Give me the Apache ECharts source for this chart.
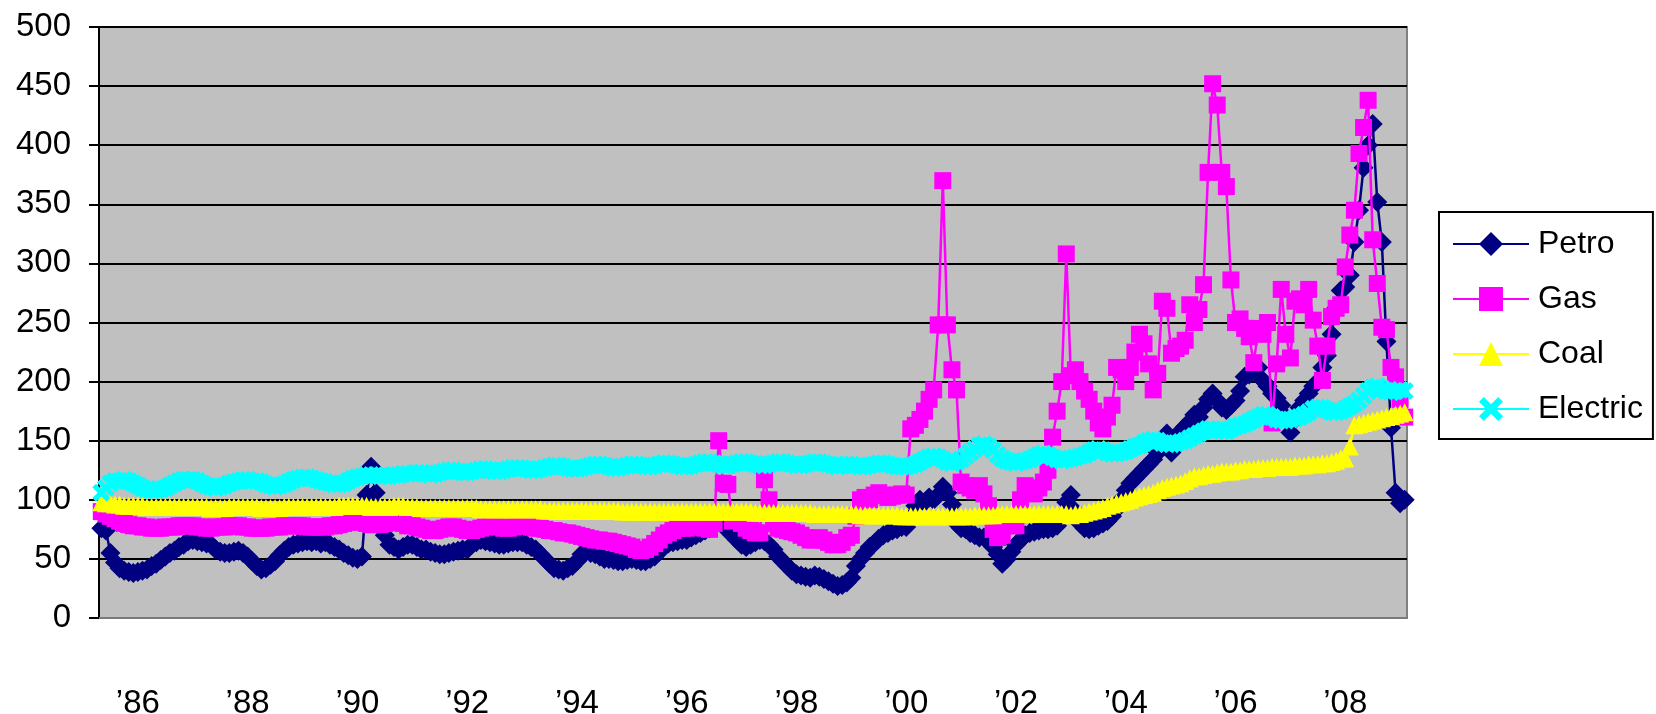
<!DOCTYPE html>
<html>
<head>
<meta charset="utf-8">
<script src="https://cdn.jsdelivr.net/npm/echarts@6/dist/echarts.min.js"></script>
<style>
html,body{margin:0;padding:0;background:#fff;}
#chart{width:1656px;height:714px;}
</style>
</head>
<body>
<div id="chart"></div>
<script>
// Monthly observations, May 1985 .. Feb 2009
const startYear = 1985, startMonth = 5;
const seriesNames = ["Petro", "Gas", "Coal", "Electric"];
const tickLabels = ["’86","’88","’90","’92","’94","’96","’98","’00","’02","’04","’06","’08"];
const tickYears = [1986,1988,1990,1992,1994,1996,1998,2000,2002,2004,2006,2008];

const petro = [
  76, 74, 55, 47, 42, 40, 39, 38,
  39, 40, 41, 44, 46, 49, 52, 55, 57, 60, 62, 65,
  66, 65, 64, 63, 62, 58, 56, 55, 55, 56, 57, 55,
  52, 48, 44, 41, 42, 45, 48, 53, 57, 60, 62, 63,
  64, 65, 64, 65, 63, 64, 62, 60, 58, 55, 53, 51,
  50, 52, 104, 128, 106, 86, 70, 62, 60, 58, 60, 62,
  62, 60, 58, 58, 56, 55, 54, 54, 55, 56, 57, 58,
  58, 62, 64, 66, 65, 64, 63, 62, 62, 63, 64, 64,
  64, 62, 60, 58, 54, 50, 46, 42, 41, 40, 42, 44,
  48, 54, 56, 55, 54, 52, 50, 50, 49, 48, 48, 49,
  50, 49, 48, 48, 50, 52, 56, 60, 63, 64, 65, 66,
  66, 68, 70, 72, 74, 76, 80, 82, 78, 74, 70, 66,
  62, 60, 62, 64, 66, 65, 62, 58, 52, 48, 44, 40,
  37, 36, 35, 34, 36, 35, 33, 31, 29, 27, 28, 30,
  34, 44, 50, 55, 60, 63, 67, 70, 72, 74, 75, 77,
  77, 85, 95, 100, 98, 102, 100, 104, 111, 106, 96, 80,
  76, 75, 72, 70, 68, 68, 66, 60, 54, 46, 50, 56,
  62, 66, 70, 72, 73, 74, 75, 75, 76, 78, 85, 98,
  104, 90, 80, 76, 75, 76, 78, 80, 82, 86, 92, 100,
  108, 114, 118, 122, 126, 130, 134, 140, 150, 156, 140, 150,
  158, 162, 166, 172, 170, 178, 185, 190, 184, 178, 176, 180,
  184, 192, 204, 206, 210, 212, 201, 196, 190, 186, 180, 170,
  157, 168, 178, 184, 190, 196, 200, 212, 222, 240, 262, 277,
  280, 290, 318, 345, 381, 400, 418, 352, 318, 234, 161, 106,
  97, 100
];

const gas = [
  90, 88, 86, 84, 82, 80, 79, 78,
  78, 77, 77, 76, 76, 76, 77, 77, 77, 78, 78, 78,
  78, 77, 77, 76, 76, 77, 77, 77, 78, 78, 78, 77,
  77, 76, 76, 76, 76, 77, 77, 77, 78, 78, 78, 78,
  78, 77, 77, 77, 77, 77, 78, 78, 79, 80, 81, 82,
  82, 81, 80, 79, 79, 79, 80, 81, 82, 81, 80, 78,
  78, 77, 76, 75, 74, 74, 75, 76, 77, 77, 76, 75,
  74, 74, 75, 76, 77, 78, 78, 77, 76, 76, 77, 78,
  78, 78, 77, 76, 76, 75, 74, 74, 73, 72, 72, 71,
  70, 69, 68, 67, 66, 66, 65, 65, 64, 63, 62, 61,
  60, 58, 57, 58, 60, 63, 66, 70, 72, 74, 76, 76,
  76, 77, 78, 77, 76, 75, 80, 150, 114, 113, 82, 84,
  80, 76, 74, 72, 72, 117, 100, 80, 76, 75, 74, 73,
  72, 70, 68, 66, 66, 68, 66, 64, 62, 62, 64, 68,
  70, 86, 100, 102, 100, 104, 106, 104, 102, 103, 104, 105,
  104, 160, 163, 168, 175, 185, 193, 248, 370, 248, 210, 193,
  115, 112, 110, 108, 112, 105, 95, 75, 68, 70, 80, 78,
  78, 100, 112, 110, 105, 110, 115, 125, 153, 175, 200, 308,
  205, 210, 200, 192, 185, 175, 165, 160, 170, 180, 212, 210,
  200, 212, 225, 240, 232, 215, 193, 207, 268, 262, 224, 228,
  230, 235, 265, 250, 261, 282, 377, 452, 434, 377, 365, 286,
  250, 253, 245, 238, 216, 245, 240, 250, 165, 215, 278, 240,
  220, 268, 270, 265, 278, 252, 230, 201, 230, 255, 262, 265,
  297, 324, 345, 393, 415, 438, 320, 283, 246, 244, 212, 204,
  185, 170
];

const coal = [
  98, 97, 97, 96, 96, 95, 95, 95,
  95, 95, 94, 94, 94, 94, 94, 94, 94, 94, 94, 94,
  94, 94, 94, 94, 93, 93, 93, 93, 94, 94, 94, 94,
  94, 94, 94, 93, 93, 93, 93, 93, 94, 94, 94, 94,
  94, 94, 94, 94, 94, 94, 94, 94, 95, 95, 95, 95,
  95, 95, 95, 94, 94, 94, 94, 94, 95, 95, 95, 94,
  94, 94, 93, 93, 93, 93, 93, 93, 93, 93, 93, 93,
  93, 93, 93, 92, 92, 92, 92, 92, 92, 92, 92, 92,
  92, 92, 92, 92, 92, 91, 91, 91, 91, 91, 91, 91,
  91, 91, 91, 91, 91, 91, 91, 91, 91, 91, 90, 90,
  90, 90, 90, 90, 90, 90, 90, 90, 90, 90, 90, 90,
  90, 90, 90, 90, 90, 90, 90, 90, 90, 90, 90, 90,
  90, 90, 90, 89, 89, 89, 89, 89, 89, 89, 89, 89,
  89, 89, 89, 89, 88, 88, 88, 88, 88, 88, 88, 88,
  88, 88, 87, 87, 87, 87, 87, 87, 87, 87, 87, 86,
  86, 86, 86, 86, 86, 86, 86, 86, 86, 86, 86, 86,
  86, 86, 86, 87, 87, 87, 87, 87, 88, 88, 88, 88,
  88, 88, 88, 88, 88, 88, 88, 88, 88, 88, 88, 88,
  87, 88, 88, 89, 90, 91, 92, 93, 95, 96, 97, 98,
  99, 100, 102, 103, 104, 105, 106, 108, 110, 111, 112, 113,
  114, 116, 118, 120, 120, 121, 122, 122, 123, 124, 124, 124,
  125, 125, 126, 126, 126, 127, 127, 127, 128, 128, 128, 128,
  128, 129, 129, 129, 130, 130, 130, 131, 131, 132, 133, 135,
  135, 145, 163, 164, 165, 166, 167, 168, 169, 170, 171, 172,
  173, 174
];

const electric = [
  106, 110, 114, 116, 116, 117, 116, 114,
  112, 110, 109, 108, 108, 109, 110, 112, 114, 116, 117, 117,
  117, 116, 114, 112, 111, 110, 111, 112, 114, 115, 116, 117,
  117, 116, 116, 115, 113, 112, 111, 112, 113, 115, 117, 118,
  119, 119, 118, 117, 116, 115, 114, 113, 113, 114, 116, 118,
  119, 120, 121, 121, 121, 120, 120, 120, 121, 121, 122, 122,
  122, 123, 123, 122, 121, 122, 123, 124, 125, 125, 124, 123,
  123, 124, 125, 126, 126, 125, 124, 124, 125, 126, 127, 127,
  127, 126, 125, 125, 126, 127, 128, 129, 129, 128, 127, 126,
  126, 127, 128, 129, 130, 130, 129, 128, 127, 127, 128, 129,
  130, 130, 129, 128, 128, 129, 130, 131, 131, 130, 129, 128,
  128, 129, 130, 131, 132, 132, 131, 130, 129, 129, 130, 131,
  132, 132, 131, 130, 129, 129, 130, 131, 132, 132, 131, 130,
  129, 129, 130, 131, 132, 132, 131, 130, 129, 128, 129, 130,
  130, 129, 128, 128, 129, 130, 131, 131, 130, 129, 128, 128,
  128, 129, 130, 132, 134, 136, 137, 136, 134, 132, 131, 132,
  134, 137, 140, 143, 146, 147, 145, 142, 138, 135, 133, 132,
  131, 132, 133, 134, 136, 138, 139, 138, 136, 134, 133, 134,
  135, 136, 137, 138, 140, 142, 143, 142, 140, 139, 139, 140,
  141, 143, 145, 146, 148, 150, 151, 150, 148, 147, 147, 148,
  149, 150, 152, 154, 156, 158, 160, 160, 159, 158, 158, 160,
  162, 163, 164, 166, 168, 170, 172, 172, 170, 168, 167, 167,
  168, 169, 170, 172, 174, 177, 178, 178, 176, 174, 174, 175,
  177, 179, 181, 184, 188, 192, 195, 196, 194, 192, 191, 192,
  193, 192
];

// month categories
const months = [];
for (let i = 0; i < petro.length; i++) {
  const m0 = startMonth - 1 + i;
  const y = startYear + Math.floor(m0 / 12);
  const m = (m0 % 12) + 1;
  months.push(y + "-" + (m < 10 ? "0" + m : m));
}
const labelFor = {};
tickYears.forEach((y, k) => { labelFor[y + "-01"] = tickLabels[k]; });

const FONT = '"Liberation Sans", Arial, sans-serif';
const xPath = 'path://M2,0 L5,3 L8,0 L10,2 L7,5 L10,8 L8,10 L5,7 L2,10 L0,8 L3,5 L0,2 Z';

const styles = [
  { color: '#000080', symbol: 'diamond', size: [20, 20] },
  { color: '#FF00FF', symbol: 'rect', size: 17 },
  { color: '#FFFF00', symbol: 'triangle', size: 18 },
  { color: '#00FFFF', symbol: xPath, size: 18 }
];
const values = [petro, gas, coal, electric];

const chart = echarts.init(document.getElementById('chart'), null, { renderer: 'canvas' });
chart.setOption({
  animation: false,
  backgroundColor: '#ffffff',
  grid: {
    left: 99, right: 249, top: 27, bottom: 96,
    containLabel: false,
    outerBoundsMode: 'none',
    show: true, backgroundColor: '#C0C0C0', borderColor: '#808080', borderWidth: 2
  },
  legend: {
    orient: 'vertical',
    left: 1439, top: 212,
    padding: [16, 10, 14, 13],
    itemGap: 23,
    itemWidth: 76, itemHeight: 30,
    backgroundColor: '#ffffff',
    borderColor: '#000000', borderWidth: 2,
    textStyle: { fontFamily: FONT, fontSize: 32, color: '#000', padding: [0, 0, 0, 4] },
    data: seriesNames
  },
  xAxis: {
    type: 'category',
    data: months,
    boundaryGap: true,
    axisLine: { show: true, lineStyle: { color: '#7a7a7a', width: 2 } },
    axisTick: { show: false },
    splitLine: { show: false },
    axisLabel: {
      interval: (idx, val) => labelFor[val] !== undefined,
      formatter: (val) => labelFor[val] || '',
      margin: 69,
      fontFamily: FONT, fontSize: 33, color: '#000'
    }
  },
  yAxis: {
    type: 'value',
    min: 0, max: 500, interval: 50,
    axisLine: { show: true, lineStyle: { color: '#000', width: 2 } },
    axisTick: { show: true, length: 10, lineStyle: { color: '#000', width: 2 } },
    splitLine: { show: true, lineStyle: { color: '#000', width: 2 } },
    axisLabel: { margin: 28, fontFamily: FONT, fontSize: 33, color: '#000' }
  },
  series: seriesNames.map((name, k) => ({
    name: name,
    type: 'line',
    data: values[k],
    symbol: styles[k].symbol,
    symbolSize: styles[k].size,
    showAllSymbol: true,
    lineStyle: { color: styles[k].color, width: 2.5 },
    itemStyle: { color: styles[k].color },
    emphasis: { disabled: true },
    z: 2 + k
  }))
});
</script>
</body>
</html>
